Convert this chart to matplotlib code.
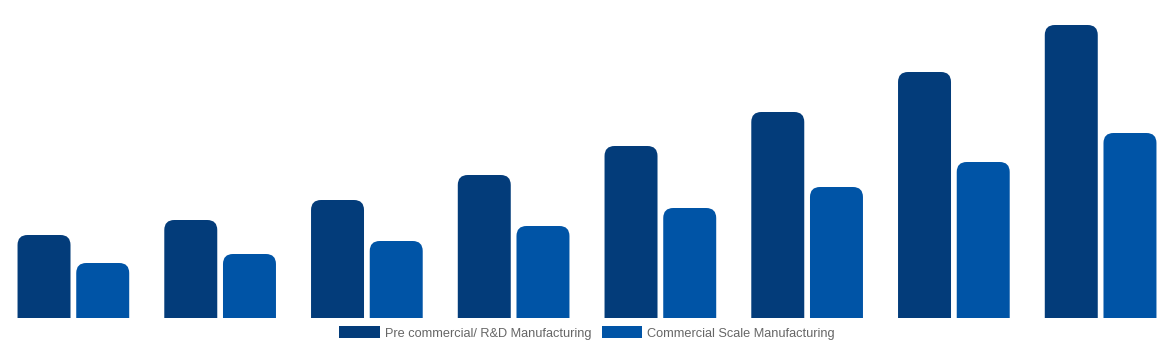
import numpy as np
import matplotlib.pyplot as plt
from matplotlib.patches import FancyBboxPatch, Patch

plt.rcParams['font.family'] = ['Liberation Sans', 'DejaVu Sans']

# values (relative heights)
groups = ['G1', 'G2', 'G3', 'G4', 'G5', 'G6', 'G7', 'G8']
rnd_manufacturing = [83, 98, 118, 143, 172, 206, 246, 293]
commercial_manufacturing = [55, 64, 77, 92, 110, 131, 156, 185]

series_names = ['Pre commercial/ R&D Manufacturing', 'Commercial Scale Manufacturing']
colors = ['#033c7a', '#0054a6']

fig = plt.figure(figsize=(11.74, 3.5), dpi=100)
ax = fig.add_axes([0, 32 / 350, 1, 318 / 350])

x = np.arange(len(groups))
width = 0.361
offset = 0.2

bars1 = ax.bar(x - offset, rnd_manufacturing, width, color=colors[0])
bars2 = ax.bar(x + offset, commercial_manufacturing, width, color=colors[1])

ax.set_xlim(-0.5, 7.5)
ax.set_ylim(0, 318)
ax.axis('off')

# swap plain bars for ones with rounded tops
px_x = 146.75  # pixels per x unit
r_px = 10
rad = r_px / px_x
for bars, c in [(bars1, colors[0]), (bars2, colors[1])]:
    for b in bars:
        b.set_visible(False)
        fb = FancyBboxPatch((b.get_x(), -20), b.get_width(), b.get_height() + 20,
                            boxstyle=f"round,pad=0,rounding_size={rad}",
                            mutation_aspect=r_px / rad, facecolor=c, edgecolor='none',
                            clip_on=True)
        ax.add_patch(fb)

handles = [Patch(facecolor=colors[0]), Patch(facecolor=colors[1])]
fig.legend(handles, series_names, loc='center', bbox_to_anchor=(0.5, 17 / 350),
           ncol=2, frameon=False, fontsize=9.2, labelcolor='#666666',
           handlelength=3.15, handleheight=1.05, handletextpad=0.4, columnspacing=0.8)

fig.savefig('out.png', dpi=100)
